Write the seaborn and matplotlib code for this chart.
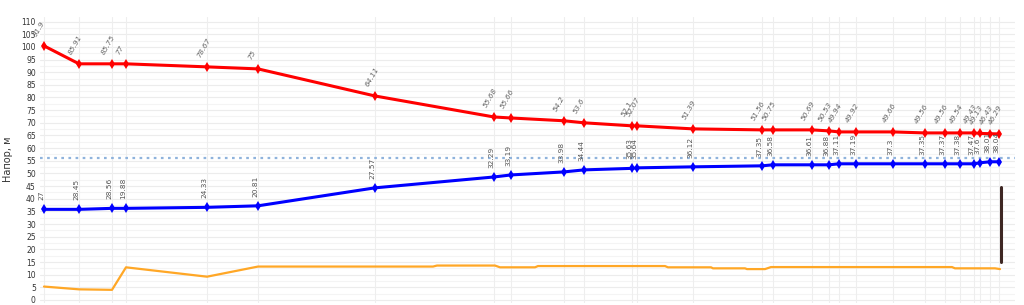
import matplotlib
matplotlib.use("Agg")
import matplotlib.pyplot as plt
import seaborn as sns
import pandas as pd
import numpy as np

# distance along route (m)
dist = [0, 35, 68, 82, 163, 214, 331, 450, 467, 520, 540, 588, 593, 649, 718, 729,
        768, 785, 795, 812, 849, 881, 901, 916, 930, 936, 946, 955]
# pressure line (head), m
head = [100.4, 93.3, 93.3, 93.3, 92.1, 91.3, 80.6, 72.3, 71.9, 70.8, 70.0, 68.8, 68.8,
        67.6, 67.2, 67.2, 67.2, 66.8, 66.4, 66.4, 66.4, 66.0, 66.0, 66.0, 66.0, 65.8,
        65.7, 65.6]
head_labels = ["91.9", "85.91", "85.75", "77", "78.67", "75", "64.11", "55.68", "55.66",
               "54.2", "53.6", "52.1", "52.07", "51.39", "51.56", "50.75", "50.69", "50.53",
               "49.94", "49.92", "49.66", "49.56", "49.56", "49.54", "49.43", "49.13",
               "46.43", "46.29"]
# ground / pipe line, m
ground = [35.8, 35.8, 36.2, 36.2, 36.6, 37.2, 44.3, 48.6, 49.4, 50.6, 51.4, 52.0, 52.2,
          52.6, 53.0, 53.4, 53.4, 53.4, 53.8, 53.8, 53.8, 53.8, 53.8, 53.8, 53.8, 54.2,
          54.6, 54.6]
ground_labels = ["27", "28.45", "28.56", "19.88", "24.33", "20.81", "27.57", "32.29",
                 "33.19", "33.98", "34.44", "35.63", "35.64", "36.12", "37.35", "36.58",
                 "36.61", "36.88", "37.11", "37.19", "37.3", "37.35", "37.37", "37.38",
                 "37.47", "37.6", "38.01", "38.04"]
# third series
dist_o = [0, 35, 68, 82, 163, 214, 389, 393, 451, 456, 491, 494, 621, 624, 667, 669,
          701, 703, 721, 727, 908, 911, 951, 956]
val_o = [5.3, 4.2, 4.0, 12.9, 9.2, 13.2, 13.2, 13.6, 13.6, 12.9, 12.9, 13.4, 13.4, 12.9,
         12.9, 12.5, 12.5, 12.2, 12.2, 13.0, 13.0, 12.5, 12.5, 12.2]
ref_level = 56.0
bar_x = 957
bar_y = [15.0, 44.5]

sns.set_style("white")
plt.rcParams['font.family'] = ['DejaVu Sans']

fig = plt.figure(figsize=(10.24, 3.05), dpi=100)
ax = fig.add_axes([40 / 1024, 2.5 / 305, 975 / 1024, 286 / 305])

xmin, xmax = -4, 971
ax.set_xlim(xmin, xmax)
ax.set_ylim(-1, 112)

# grid
for yv in np.arange(0, 111, 2.5):
    ax.axhline(yv, color="#ececec" if yv % 5 == 0 else "#f4f4f4", lw=0.8, zorder=0)
for xv in dist:
    ax.axvline(xv, color="#eeeeee", lw=0.8, zorder=0)

ax.axhline(ref_level, color="#8fb3dc", lw=1.6, ls=(0, (1.2, 2.0)), zorder=1)

df_o = pd.DataFrame({"d": dist_o, "v": val_o})
sns.lineplot(data=df_o, x="d", y="v", ax=ax, color="#ffa726", lw=1.6, sort=False,
             estimator=None, zorder=2)

df_h = pd.DataFrame({"d": dist, "v": head})
sns.lineplot(data=df_h, x="d", y="v", ax=ax, color="#ff0000", lw=2.2, marker="d",
             markersize=5, markeredgewidth=0, sort=False, estimator=None, zorder=3)
df_g = pd.DataFrame({"d": dist, "v": ground})
sns.lineplot(data=df_g, x="d", y="v", ax=ax, color="#0000ff", lw=2.2, marker="d",
             markersize=5, markeredgewidth=0, sort=False, estimator=None, zorder=3)

ax.plot([bar_x, bar_x], bar_y, color="#3e2723", lw=2.2, zorder=3)

for d, v, t in zip(dist, head, head_labels):
    ax.annotate(t, (d, v), xytext=(-6, 8), textcoords="offset pixels", rotation=60,
                rotation_mode="anchor", ha="left", va="bottom", fontsize=5.3,
                color="#666666", style="italic", zorder=4)
for d, v, t in zip(dist, ground, ground_labels):
    ax.annotate(t, (d, v), xytext=(-3, 9), textcoords="offset pixels", rotation=90,
                rotation_mode="anchor", ha="left", va="center", fontsize=5.3,
                color="#555555", zorder=4)

ax.set_yticks(np.arange(0, 111, 5))
ax.set_yticklabels([str(int(t)) for t in np.arange(0, 111, 5)], fontsize=5.5, color="#333333")
ax.tick_params(axis="y", length=0, pad=3)
ax.set_xticks([])
ax.set_xlabel("")
ax.set_ylabel("Напор, м", fontsize=7, color="#333333", labelpad=6)
for s in ax.spines.values():
    s.set_visible(False)

fig.savefig("out.png", dpi=100)
